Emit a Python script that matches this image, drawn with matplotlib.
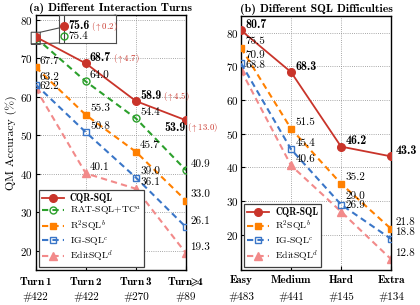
import matplotlib
matplotlib.use("Agg")
import matplotlib.pyplot as plt

plt.rcParams["font.family"] = ["cmr10", "DejaVu Serif"]
plt.rcParams["mathtext.fontset"] = "cm"
plt.rcParams["axes.formatter.use_mathtext"] = True

# ---- data -------------------------------------------------------------
turns = ["Turn$\\,$1", "Turn$\\,$2", "Turn$\\,$3", "Turn$\\!\\!\\geqslant\\!\\!$4"]
turn_counts = ["#422", "#422", "#270", "#89"]
turn_cqr = [75.6, 68.7, 58.9, 53.9]
turn_gain = ["0.2", "4.7", "4.5", "13.0"]
turn_rat = [75.4, 64.0, 54.4, 40.9]
turn_r2 = [67.7, 55.3, 45.7, 33.0]
turn_ig = [63.2, 50.8, 39.0, 26.1]
turn_edit = [62.2, 40.1, 36.1, 19.3]

levels = ["Easy", "Medium", "Hard", "Extra"]
level_counts = ["#483", "#441", "#145", "#134"]
level_cqr = [80.7, 68.3, 46.2, 43.3]
level_r2 = [75.5, 51.5, 35.2, 21.8]
level_ig = [70.9, 45.4, 29.0, 18.8]
level_edit = [68.8, 40.6, 26.9, 12.8]

RED, GREEN, ORANGE, BLUE, PINK = "#c9342a", "#2ca02c", "#ff8000", "#3a76c8", "#f28a8a"
DASH = (0, (3, 2))

styles = {
    "cqr": dict(color=RED, marker="o", ms=5.5, mfc=RED, lw=1.3),
    "rat": dict(color=GREEN, marker="o", ms=5, mfc="none", mew=1.0, lw=1.5),
    "r2": dict(color=ORANGE, marker="s", ms=5, mfc=ORANGE, lw=1.5),
    "ig": dict(color=BLUE, marker="s", ms=5, mfc="none", mew=1.0, lw=1.5),
    "edit": dict(color=PINK, marker="^", ms=5.5, mfc=PINK, lw=1.5),
}

fig = plt.figure(figsize=(4.2, 3.05), dpi=100)
ax_a = fig.add_axes([0.085, 0.115, 0.358, 0.836])
ax_b = fig.add_axes([0.574, 0.115, 0.357, 0.833])

LBL = 8.0
BOLD = ["cmb10", "DejaVu Serif"]
REG = ["cmr10", "DejaVu Serif"]


def style_axes(ax, cats, counts, ylim, title):
    ax.set_xlim(0, len(cats) - 1)
    ax.set_ylim(*ylim)
    ax.set_xticks(list(range(len(cats))))
    ax.set_xticklabels(cats, family=BOLD, fontsize=8.5)
    ax.set_yticks([20, 30, 40, 50, 60, 70, 80])
    ax.tick_params(direction="in", length=3, width=0.8, labelsize=8, pad=2)
    ax.tick_params(axis="x", pad=4)
    for i, c in enumerate(counts):
        ax.text(i, -0.106, c, transform=ax.get_xaxis_transform(),
                ha="center", va="center", fontsize=8)
    ax.grid(True, ls=(0, (1, 1.6)), color="0.55", lw=0.6)
    for s in ax.spines.values():
        s.set_linewidth(1.0)
    ax.set_title(title, family=BOLD, fontsize=8.5, pad=3)


def label(ax, x, y, txt, dx=3, dy=4.5, bold=False, ha="left"):
    return ax.annotate(txt, (x, y), xytext=(dx, dy), textcoords="offset points",
                       ha=ha, va="center", fontsize=LBL + (0.6 if bold else 0),
                       family=BOLD if bold else REG, zorder=6)


def gain(ax, anchor, g):
    ax.annotate("($\\uparrow$" + g + ")", xy=(1, 0.45), xycoords=anchor,
                xytext=(1, 0), textcoords="offset points", ha="left", va="center",
                fontsize=6.3, color=RED, zorder=6)


def add_legend(ax):
    leg = ax.legend(loc="lower left", frameon=True, fancybox=False,
                    edgecolor="0.25", framealpha=1, handlelength=2.3, borderpad=0.3,
                    labelspacing=0.1, handletextpad=0.6, borderaxespad=0.3,
                    prop={"family": REG, "size": 7.0})
    leg.get_texts()[0].set_fontfamily(BOLD)
    leg.get_frame().set_linewidth(0.9)
    leg.set_zorder(7)


# ---- (a) interaction turns --------------------------------------------
xa = list(range(len(turns)))
ax_a.plot(xa, turn_cqr, ls="-", **styles["cqr"], label="CQR-SQL", zorder=5)
ax_a.plot(xa, turn_rat, ls=DASH, **styles["rat"], label="RAT-SQL+TC$^a$", zorder=4)
ax_a.plot(xa, turn_r2, ls=DASH, **styles["r2"], label="R$^2$SQL$^b$", zorder=3)
ax_a.plot(xa, turn_ig, ls=DASH, **styles["ig"], label="IG-SQL$^c$", zorder=3)
ax_a.plot(xa, turn_edit, ls=DASH, **styles["edit"], label="EditSQL$^d$", zorder=2)
style_axes(ax_a, turns, turn_counts, (15.0, 81.3), "(a) Different Interaction Turns")
ax_a.set_ylabel("QM Accuracy (%)", fontsize=8.5, labelpad=2)

for i in range(1, 3):
    t = label(ax_a, i, turn_cqr[i], f"{turn_cqr[i]:.1f}", dx=3, dy=4, bold=True)
    gain(ax_a, t, turn_gain[i])
t = label(ax_a, 3, turn_cqr[3], f"{turn_cqr[3]:.1f}", dx=-0.5, dy=-5.5, bold=True, ha="right")
ax_a.annotate("($\\uparrow$" + turn_gain[3] + ")", (3, turn_cqr[3]),
              xytext=(1, -5.5), textcoords="offset points", ha="left",
              va="center", fontsize=6.3, color=RED, zorder=6)
for i in range(1, 4):
    label(ax_a, i, turn_rat[i], f"{turn_rat[i]:.1f}")
for i in range(4):
    label(ax_a, i, turn_r2[i], f"{turn_r2[i]:.1f}")
    label(ax_a, i, turn_ig[i], f"{turn_ig[i]:.1f}", dy=5 if i == 0 else 4.5)
    label(ax_a, i, turn_edit[i], f"{turn_edit[i]:.1f}", dy=1.2 if i == 0 else 4.5)

add_legend(ax_a)

# zoomed inset for the first turn
ins = ax_a.inset_axes([0.155, 0.89, 0.379, 0.11])
ins.plot([0], turn_cqr[:1], ls="none", **styles["cqr"])
ins.plot([0], turn_rat[:1], ls="none", **styles["rat"])
ins.axvline(0, color="0.25", lw=0.8, zorder=0)
ins.set_xlim(-0.1, 1.05)
ins.set_ylim(75.26, 75.82)
ins.set_xticks([])
ins.set_yticks([])
for s in ins.spines.values():
    s.set_linewidth(0.8)
    s.set_edgecolor("0.3")
t0 = label(ins, 0, turn_cqr[0], f"{turn_cqr[0]:.1f}", dx=3, dy=0, bold=True)
gain(ins, t0, turn_gain[0])
label(ins, 0, turn_rat[0], f"{turn_rat[0]:.1f}", dx=3, dy=0)
ax_a.indicate_inset((-0.09, 73.7, 0.18, 3.1), inset_ax=ins, edgecolor="0.3",
                    alpha=1, lw=0.8)

# ---- (b) SQL difficulty -------------------------------------------------
xb = list(range(len(levels)))
ax_b.plot(xb, level_cqr, ls="-", **styles["cqr"], label="CQR-SQL", zorder=5)
ax_b.plot(xb, level_r2, ls=DASH, **styles["r2"], label="R$^2$SQL$^b$", zorder=3)
ax_b.plot(xb, level_ig, ls=DASH, **styles["ig"], label="IG-SQL$^c$", zorder=3)
ax_b.plot(xb, level_edit, ls=DASH, **styles["edit"], label="EditSQL$^d$", zorder=2)
style_axes(ax_b, levels, level_counts, (9.6, 85.0), "(b) Different SQL Difficulties")

for i in range(4):
    label(ax_b, i, level_cqr[i], f"{level_cqr[i]:.1f}", dx=3, dy=4, bold=True)
    label(ax_b, i, level_r2[i], f"{level_r2[i]:.1f}")
    label(ax_b, i, level_ig[i], f"{level_ig[i]:.1f}",
          dy=6.2 if i in (0, 2) else 4.5)
    label(ax_b, i, level_edit[i], f"{level_edit[i]:.1f}",
          dy=3.8 if i == 0 else 4.5)

add_legend(ax_b)

fig.savefig("out.png", dpi=100)
